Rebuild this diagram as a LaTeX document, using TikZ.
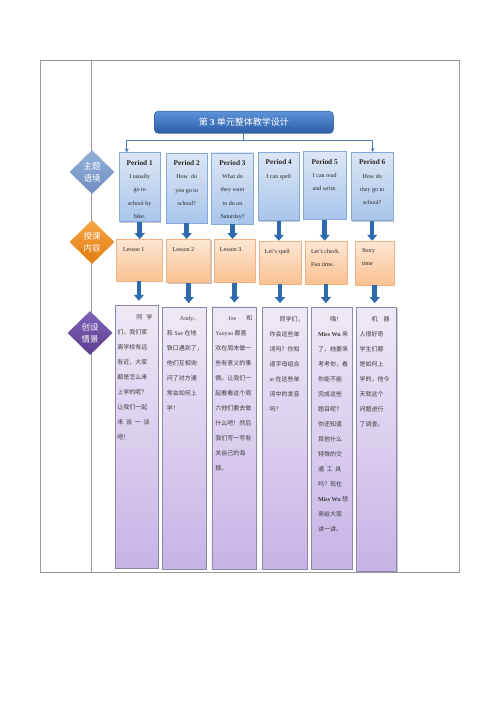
\documentclass[tikz,border=0pt]{standalone}
\usepackage{fontspec}
\setmainfont{Liberation Serif}
\newfontfamily\cjk{Noto Sans CJK SC}
\newfontfamily\lat{Liberation Serif}
\usetikzlibrary{arrows.meta,shapes.geometric,shadows}
\definecolor{framegray}{HTML}{9A9A9A}
\definecolor{arrowblue}{HTML}{2F6AAE}
\definecolor{connblue}{HTML}{4A7EBB}
\definecolor{txtdark}{HTML}{262626}
\definecolor{cjkgray}{HTML}{3C3C3C}
\definecolor{titletop}{HTML}{5D91D8}
\definecolor{titlebot}{HTML}{2A5FA8}
\definecolor{titledraw}{HTML}{2F5E9E}
\definecolor{ptop}{HTML}{DCE6F4}
\definecolor{pbot}{HTML}{A9C5EC}
\definecolor{pdraw}{HTML}{85A9D8}
\definecolor{ltop}{HTML}{FDE7D3}
\definecolor{lbot}{HTML}{F9C191}
\definecolor{ldraw}{HTML}{F1B386}
\definecolor{stop}{HTML}{EFE9F6}
\definecolor{sbot}{HTML}{C6B3E7}
\definecolor{sdraw}{HTML}{8E88A8}
\definecolor{dbtop}{HTML}{94B1DB}
\definecolor{dbbot}{HTML}{6D8DC0}
\definecolor{dotop}{HTML}{F7A545}
\definecolor{dobot}{HTML}{E27A10}
\definecolor{dptop}{HTML}{8063B8}
\definecolor{dpbot}{HTML}{5B3E8E}
\begin{document}
\begin{tikzpicture}[x=1pt,y=-1pt,
  shad/.style={drop shadow={shadow xshift=0.8pt,shadow yshift=-0.8pt,opacity=0.3,fill=black!70}},
  titlebox/.style={rectangle,rounded corners=4pt,top color=titletop,bottom color=titlebot,draw=titledraw,line width=0.5pt,text=white,inner sep=0pt,shad},
  pbox/.style={rectangle,top color=ptop,bottom color=pbot,draw=pdraw,line width=0.5pt,inner sep=0pt,shad},
  lbox/.style={rectangle,top color=ltop,bottom color=lbot,draw=ldraw,line width=0.5pt,inner sep=0pt,shad},
  sbox/.style={rectangle,top color=stop,bottom color=sbot,draw=sdraw,line width=0.5pt,inner sep=0pt,shad},
  dia/.style={diamond,minimum width=45pt,minimum height=44pt,inner sep=0pt,text=white,align=center,font=\cjk\fontsize{8.5}{12.4}\selectfont},
  ptext/.style={inner sep=0pt,align=center,text=txtdark,font=\fontsize{6}{13.3}\selectfont},
  ltext/.style={inner sep=0pt,align=left,text=txtdark,font=\fontsize{6}{13}\selectfont},
  stext/.style={inner sep=0pt,align=left,text=cjkgray,font=\cjk\fontsize{6}{15}\selectfont},
  blockarrow/.style={draw=arrowblue,line width=4.5pt,-{Triangle[width=10pt,length=6pt]}},
  conn/.style={draw=connblue,line width=0.9pt}
]
\useasboundingbox (0,0) rectangle (500,707);
% frame
\draw[framegray,line width=0.8pt] (40,60) rectangle (459,572);
\draw[framegray,line width=0.8pt] (91,60) -- (91,572);

% diamonds
\node[dia,top color=dbtop,bottom color=dbbot] (d1) at (92,172) {主题\\语境};
\node[dia,top color=dotop,bottom color=dobot] (d2) at (92,242) {授课\\内容};
\node[dia,top color=dptop,bottom color=dpbot] (d3) at (90,333) {创设\\情景};

% title
\node[titlebox,minimum width=179pt,minimum height=22pt] (title) at (243.8,122.2) {\fontsize{9}{11}\selectfont{\cjk 第} \textbf{3} {\cjk 单元整体教学设计}};

% periods
\node[pbox,minimum width=40.7pt,minimum height=69pt] (p1) at (139.7,187.2) {};
\node[pbox,minimum width=41.3pt,minimum height=69.7pt] (p2) at (186.7,187.9) {};
\node[pbox,minimum width=41.6pt,minimum height=71.3pt] (p3) at (232.5,188.4) {};
\node[pbox,minimum width=41pt,minimum height=68.4pt] (p4) at (278.8,186.5) {};
\node[pbox,minimum width=42.7pt,minimum height=67.6pt] (p5) at (324.7,185.5) {};
\node[pbox,minimum width=42.3pt,minimum height=68.4pt] (p6) at (372.2,186.5) {};

\node[ptext,anchor=north] (pt1) at ([yshift=-7.5pt]p1.north) {{\fontsize{7.3}{13.3}\selectfont\bfseries Period 1}\\I usually\\go to\\school by\\bike.};
\node[ptext,anchor=north] (pt2) at ([yshift=-7.5pt]p2.north) {{\fontsize{7.3}{13.3}\selectfont\bfseries Period 2}\\How\ \ do\\you go to\\school?};
\node[ptext,anchor=north] (pt3) at ([yshift=-7.5pt]p3.north) {{\fontsize{7.3}{13.3}\selectfont\bfseries Period 3}\\What do\\they want\\to do on\\Saturday?};
\node[ptext,anchor=north] (pt4) at ([yshift=-7.5pt]p4.north) {{\fontsize{7.3}{13.3}\selectfont\bfseries Period 4}\\I can spell};
\node[ptext,anchor=north] (pt5) at ([yshift=-7.5pt]p5.north) {{\fontsize{7.3}{13.3}\selectfont\bfseries Period 5}\\I can read\\and write.};
\node[ptext,anchor=north] (pt6) at ([yshift=-7.5pt]p6.north) {{\fontsize{7.3}{13.3}\selectfont\bfseries Period 6}\\How do\\they go to\\school?};

% title connectors
\coordinate (hub) at (243.8,140);
\coordinate (hl) at (126.7,140);
\coordinate (hr) at (372.7,140);
\draw[conn] (title.south) -- (hub);
\draw[conn,-{Stealth[length=4pt,width=4pt]}] (hub) -- (hl) -- (hl |- p1.north);
\draw[conn,-{Stealth[length=4pt,width=4pt]}] (hub) -- (hr) -- (hr |- p6.north);

% lessons
\node[lbox,minimum width=45.7pt,minimum height=41.7pt] (l1) at (138.9,260.2) {};
\node[lbox,minimum width=44pt,minimum height=43.4pt] (l2) at (188.7,261) {};
\node[lbox,minimum width=41pt,minimum height=43pt] (l3) at (234.5,260.8) {};
\node[lbox,minimum width=42pt,minimum height=43pt] (l4) at (280,262.5) {};
\node[lbox,minimum width=41.7pt,minimum height=43pt] (l5) at (325.9,262.5) {};
\node[lbox,minimum width=39.3pt,minimum height=44pt] (l6) at (374.7,263) {};

\node[ltext,anchor=north west] (lt1) at ([xshift=7pt,yshift=-8pt]l1.north west) {Lesson 1};
\node[ltext,anchor=north west] (lt2) at ([xshift=6pt,yshift=-8pt]l2.north west) {Lesson 2};
\node[ltext,anchor=north west] (lt3) at ([xshift=6pt,yshift=-8pt]l3.north west) {Lesson 3};
\node[ltext,anchor=north west] (lt4) at ([xshift=6pt,yshift=-8pt]l4.north west) {Let's spell};
\node[ltext,anchor=north west] (lt5) at ([xshift=6pt,yshift=-8pt]l5.north west) {Let's check.\\Fun time.};
\node[ltext,anchor=north west] (lt6) at ([xshift=7pt,yshift=-8pt]l6.north west) {Story\\time};

% situation boxes
\node[sbox,minimum width=43pt,minimum height=263.3pt] (s1) at (136.5,436.7) {};
\node[sbox,minimum width=44pt,minimum height=261.7pt] (s2) at (184,438.2) {};
\node[sbox,minimum width=44.3pt,minimum height=262.3pt] (s3) at (234,437.9) {};
\node[sbox,minimum width=44.3pt,minimum height=261.7pt] (s4) at (284.8,438.2) {};
\node[sbox,minimum width=40.3pt,minimum height=261.7pt] (s5) at (331.8,438.2) {};
\node[sbox,minimum width=40pt,minimum height=263.7pt] (s6) at (376.7,439.2) {};

\node[stext,anchor=north west] (st1) at ([xshift=2.5pt,yshift=-9pt]s1.north west) {\hspace*{19pt}同\hspace{4pt}学\\们，我们家\\离学校有远\\有近，大家\\都是怎么来\\上学的呢？\\让我们一起\\来\ \ 谈\ \ 一\ \ 谈\\吧！};
\node[stext,anchor=north west] (st2) at ([xshift=5pt,yshift=-9pt]s2.north west) {\hspace*{13pt}{\lat Andy}。\\和 {\lat Sue} 在地\\铁口遇到了，\\他们互相询\\问了对方通\\常会如何上\\学！};
\node[stext,anchor=north west] (st3) at ([xshift=3.5pt,yshift=-9pt]s3.north west) {\hspace*{13pt}{\lat Joe}\hspace{10pt}和\\{\lat Yaoyao} 都喜\\欢在周末做一\\些有意义的事\\情。让我们一\\起看看这个周\\六他们要去做\\什么吧！然后\\我们写一写有\\关自己的海\\报。};
\node[stext,anchor=north west] (st4) at ([xshift=7pt,yshift=-9pt]s4.north west) {\hspace*{10pt}同学们，\\你会这些单\\词吗？你知\\道字母组合\\{\lat ar} 在这些单\\词中的发音\\吗？};
\node[stext,anchor=north west] (st5) at ([xshift=6.5pt,yshift=-9pt]s5.north west) {\hspace*{12pt}嗨！\\{\lat\bfseries Miss Wu} 来\\了，她要来\\考考你，看\\你能不能\\完成这些\\题目呢？\\你还知道\\其他什么\\特殊的交\\通\ \ 工\ \ 具\\吗？现在\\{\lat\bfseries Miss Wu} 想\\来给大家\\讲一讲。};
\node[stext,anchor=north west] (st6) at ([xshift=3pt,yshift=-9pt]s6.north west) {\hspace*{12pt}机\hspace{6pt}器\\人很好奇\\学生们都\\是如何上\\学的，他今\\天就这个\\问题进行\\了调查。};

% block arrows
\foreach \i in {1,...,6} {
  \draw[blockarrow] (p\i.south) -- (p\i.south |- l\i.north);
  \draw[blockarrow,shorten >=4pt] (l\i.south) -- (l\i.south |- s\i.north);
}
\end{tikzpicture}
\end{document}
